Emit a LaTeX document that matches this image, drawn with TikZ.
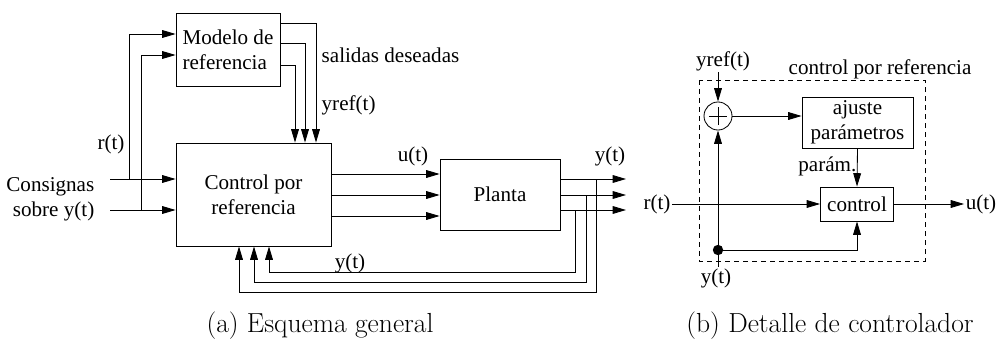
\documentclass[tikz,border=0pt]{standalone}
\usepackage{fontspec}
\newfontfamily\lblfont{Liberation Serif}
\usepackage{tikz}
\usetikzlibrary{arrows.meta,positioning}
\tikzset{
    lbl/.style={font=\lblfont\fontsize{15}{17.8}\selectfont,inner sep=1pt},
    blk/.style={draw,line width=0.6pt,inner sep=0pt,align=center,lbl},
    wire/.style={line width=0.6pt},
    arr/.style={wire,-{Triangle[length=9.5pt,width=5.5pt]}},
    dashbox/.style={wire,dash pattern=on 3.6pt off 2.8pt},
    captxt/.style={font=\fontsize{19.6}{22}\selectfont,anchor=base}
}

\begin{document}
\begin{tikzpicture}[x=0.025cm,y=-0.025cm]
    \useasboundingbox (0,0) rectangle (997,341);

    \node[blk,minimum width=2.6cm,minimum height=1.825cm,align=left]
      (modelo) at (228,49.5) {Modelo de\\referencia};
    \node[blk,minimum width=3.875cm,minimum height=2.575cm]
      (ctrl) at (253.5,194.5) {Control por\\referencia};
    \node[blk,minimum width=3cm,minimum height=1.775cm]
      (planta) at (500,194.5) {Planta};

    \node[lbl,anchor=east,align=right] (consignas) at (96,199) {Consignas\\sobre y(t)};
    \node[lbl,anchor=base] (rt) at (111,149) {r(t)};
    \node[lbl,anchor=west] (salidas) at (320,55) {salidas deseadas};
    \node[lbl,anchor=west] (yref) at (320,105) {yref(t)};
    \node[lbl] (ut) at (413,156) {u(t)};
    \node[lbl] (yt) at (610,156) {y(t)};
    \node[lbl] (ytfb) at (350,263) {y(t)};

    \coordinate (in1) at (110,179);
    \coordinate (in2) at (110,210);
    \coordinate (br1) at (129,179);
    \coordinate (br2) at (141,210);
    \draw[arr] (in1) -- (in1 -| ctrl.west);
    \draw[arr] (in2) -- (in2 -| ctrl.west);
    \draw[arr] (br1) |- (modelo.west |- 0,34);
    \draw[arr] (br2) |- (modelo.west |- 0,55);

    \draw[arr] (modelo.east |- 0,23) -| (ctrl.north -| 316,0);
    \draw[arr] (modelo.east |- 0,43) -| (ctrl.north -| 305,0);
    \draw[arr] (modelo.east |- 0,65) -| (ctrl.north -| 295,0);

    \foreach \y in {174,195,216}
        \draw[arr] (ctrl.east |- 0,\y) -- (planta.west |- 0,\y);

    \foreach \y/\n/\x in {179/1/596,195/2/586,210/3/575} {
        \coordinate (out\n) at (626,\y);
        \coordinate (fb\n) at (\x,\y);
        \draw[arr] (planta.east |- out\n) -- (out\n);
    }
    \draw[arr] (fb1) -- (fb1 |- 0,292) -| (ctrl.south -| 239,0);
    \draw[arr] (fb2) -- (fb2 |- 0,282) -| (ctrl.south -| 254,0);
    \draw[arr] (fb3) -- (fb3 |- 0,272) -| (ctrl.south -| 269,0);

    \draw[dashbox] (699,80) rectangle (925,261);
    \node[draw,circle,wire,minimum size=0.7cm,inner sep=0pt] (sum) at (718,116) {};
    \draw[wire] ([xshift=-0.23cm]sum.center) -- ([xshift=0.23cm]sum.center)
                ([yshift=-0.23cm]sum.center) -- ([yshift=0.23cm]sum.center);
    \node[blk,minimum width=2.775cm,minimum height=1.275cm]
      (ajuste) at (857.5,122.5) {ajuste\\parámetros};
    \node[blk,minimum width=1.825cm,minimum height=0.85cm]
      (control) at (857,204) {control};
    \node[circle,fill,inner sep=0pt,minimum size=0.26cm] (dot) at (718,250) {};

    \node[lbl] (yrefb) at (723,61) {yref(t)};
    \node[lbl] (cpr) at (880,69) {control por referencia};
    \node[lbl] (rtb) at (657,204) {r(t)};
    \node[lbl] (utb) at (981,204) {u(t)};
    \node[lbl] (ytb) at (716,278) {y(t)};
    \node[lbl,anchor=east] (param) at (858,166) {parám.};

    \draw[arr] (sum.north |- yrefb.south) -- (sum.north);
    \draw[arr] (sum.east) -- (sum.east -| ajuste.west);
    \draw[arr] (ajuste.south) -- (control.north);
    \draw[arr] (rtb) -- (control.west);
    \draw[arr] (control.east) -- (utb.west);
    \draw[wire] (ytb.north -| dot) -- (dot);
    \draw[arr] (dot) -- (sum.south);
    \draw[arr] (dot) -| (control.south);

    \node[captxt] (capa) at (320,332) {(a) Esquema general};
    \node[captxt] (capb) at (830,332) {(b) Detalle de controlador};
\end{tikzpicture}
\end{document}
